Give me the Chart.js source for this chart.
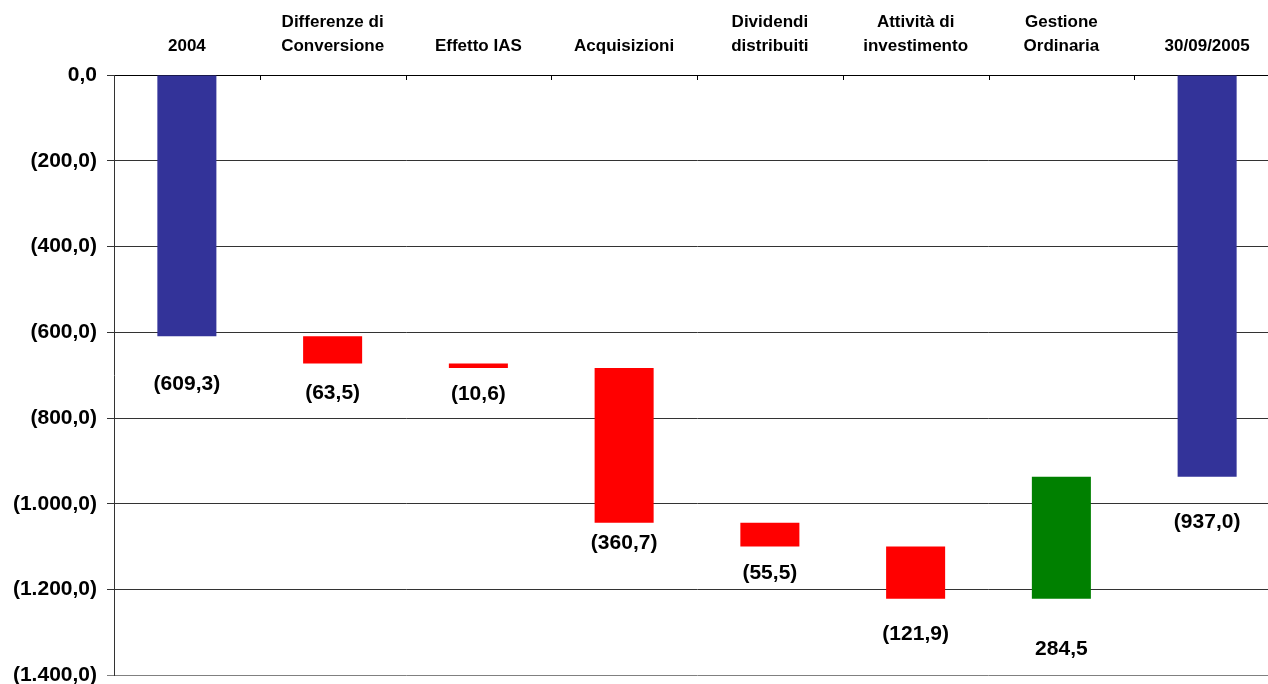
<!DOCTYPE html>
<html>
<head>
<meta charset="utf-8">
<script src="https://cdn.jsdelivr.net/npm/chart.js@4.4.1/dist/chart.umd.min.js"></script>
<style>
  html, body { margin: 0; padding: 0; background: #fff; overflow: hidden; }
  #wrap { position: relative; width: 1280px; height: 698px; }
</style>
</head>
<body>
<div id="wrap"><canvas id="chart"></canvas></div>
<script>
// waterfall: first and last are totals, the rest are movements
const categories = [
  "2004",
  ["Differenze di", "Conversione"],
  "Effetto IAS",
  "Acquisizioni",
  ["Dividendi", "distribuiti"],
  ["Attività di", "investimento"],
  ["Gestione", "Ordinaria"],
  "30/09/2005"
];
const amounts = [-609.3, -63.5, -10.6, -360.7, -55.5, -121.9, 284.5, -937.0];
const isTotal = [true, false, false, false, false, false, false, true];
const yTicks = [0, -200, -400, -600, -800, -1000, -1200, -1400];

// px below the bar's lower end where each value label sits
const labelOffsets = [48, 30, 26, 20, 27, 35, 50, 45];

const BLUE = "#333399", RED = "#FF0000", GREEN = "#008000";

// build floating bars from running total
let running = 0;
const ranges = amounts.map((v, i) => {
  if (isTotal[i]) { running = v; return [0, v]; }
  const start = running;
  running = +(running + v).toFixed(1);
  return [start, running];
});
const colors = amounts.map((v, i) => isTotal[i] ? BLUE : (v < 0 ? RED : GREEN));

function fmtNum(v) {
  const abs = Math.abs(v);
  let [int, dec] = abs.toFixed(1).split(".");
  int = int.replace(/\B(?=(\d{3})+(?!\d))/g, ".");
  const s = int + "," + dec;
  return v < 0 ? "(" + s + ")" : s;
}

const valueLabels = {
  id: "valueLabels",
  afterDatasetsDraw(chart) {
    const { ctx } = chart;
    const meta = chart.getDatasetMeta(0);
    ctx.save();
    ctx.font = "bold 21px 'Liberation Sans', Arial, sans-serif";
    ctx.fillStyle = "#000";
    ctx.textAlign = "center";
    ctx.textBaseline = "middle";
    meta.data.forEach((bar, i) => {
      const low = Math.max(bar.y, bar.base);
      ctx.fillText(fmtNum(amounts[i]), bar.x, low + labelOffsets[i]);
    });
    ctx.restore();
  }
};

// little ticks hanging down from the top axis between categories
const topTicks = {
  id: "topTicks",
  afterDraw(chart) {
    const { ctx, chartArea } = chart;
    const x = chart.scales.x;
    ctx.save();
    ctx.strokeStyle = "#000";
    ctx.lineWidth = 1;
    for (let i = 1; i < categories.length; i++) {
      const px = Math.round((x.getPixelForValue(i - 1) + x.getPixelForValue(i)) / 2) + 0.5;
      ctx.beginPath();
      ctx.moveTo(px, chartArea.top);
      ctx.lineTo(px, chartArea.top + 5);
      ctx.stroke();
    }
    ctx.restore();
  }
};

new Chart(document.getElementById("chart"), {
  type: "bar",
  data: {
    labels: categories,
    datasets: [{
      data: ranges,
      backgroundColor: colors,
      borderWidth: 0,
      barPercentage: 0.405,
      categoryPercentage: 1.0
    }]
  },
  options: {
    responsive: true,
    maintainAspectRatio: false,
    animation: false,
    layout: { padding: { left: 0, right: 0, top: 0, bottom: 9 } },
    plugins: { legend: { display: false }, tooltip: { enabled: false } },
    scales: {
      x: {
        position: "top",
        grid: { display: true, drawOnChartArea: false, drawTicks: false },
        border: { display: true, color: "#000" },
        ticks: {
          color: "#000",
          font: { family: "'Liberation Sans', Arial, sans-serif", size: 17, weight: "bold", lineHeight: 1.4 },
          padding: 17,
          maxRotation: 0,
          autoSkip: false
        },
        afterFit(scale) { scale.height = 75; }
      },
      y: {
        min: -1400,
        max: 0,
        afterBuildTicks(scale) { scale.ticks = yTicks.map(v => ({ value: v })); },
        grid: {
          color: ctx => ctx.tick && ctx.tick.value === -1400 ? "#808080" : "#333",
          tickLength: 7,
          lineWidth: 1
        },
        border: { display: true, color: "#333" },
        ticks: {
          color: "#000",
          font: { family: "'Liberation Sans', Arial, sans-serif", size: 21, weight: "bold" },
          padding: 10,
          callback: v => fmtNum(v)
        },
        afterFit(scale) { scale.width = 114; }
      }
    }
  },
  plugins: [valueLabels, topTicks]
});
</script>
</body>
</html>
